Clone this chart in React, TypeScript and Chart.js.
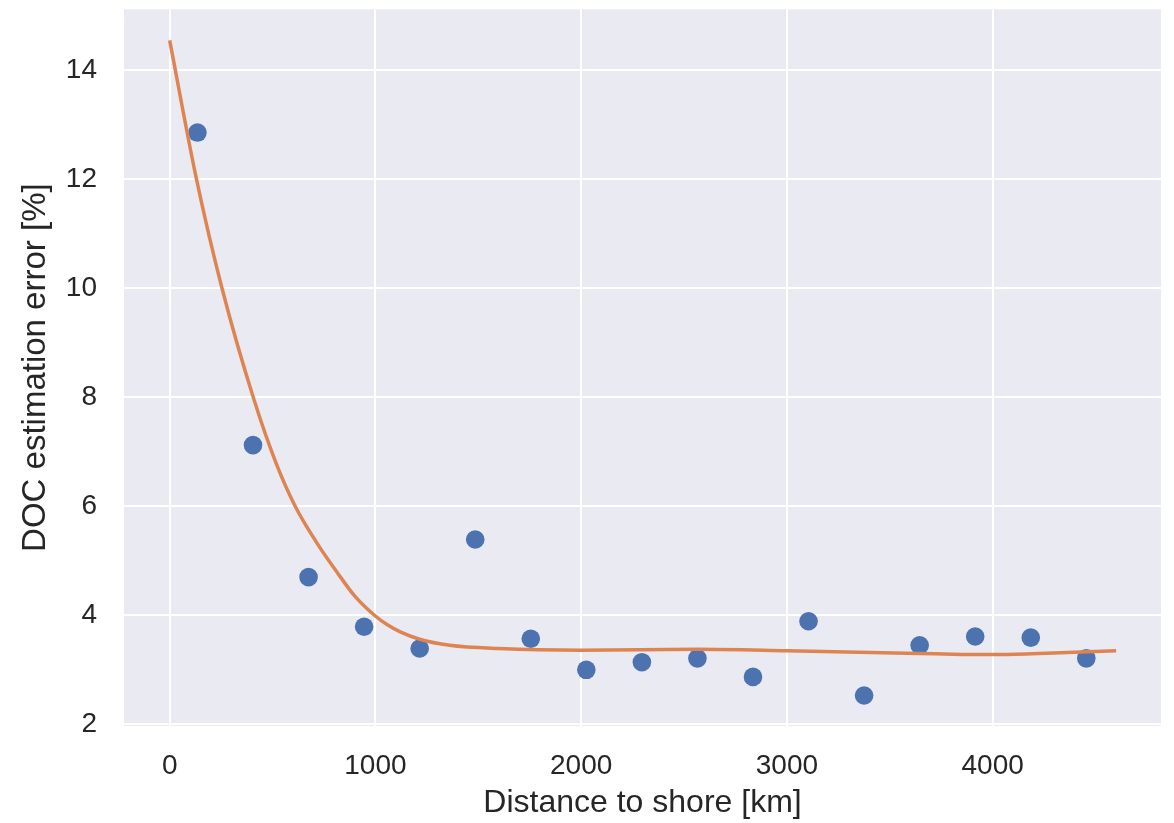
import React, { useEffect, useRef } from 'react';
import { Chart, registerables } from 'chart.js';

Chart.register(...registerables);

// Binned observations (distance to shore [km], DOC estimation error [%])
const POINT_X = [135, 405, 675, 945, 1215, 1485, 1755, 2025, 2295, 2565, 2835, 3105, 3375, 3645, 3915, 4185, 4455];
const POINT_Y = [12.85, 7.12, 4.7, 3.79, 3.39, 5.39, 3.57, 3.0, 3.14, 3.21, 2.87, 3.89, 2.53, 3.45, 3.61, 3.59, 3.21];

// Fitted curve
const FIT_X = [0, 130, 254, 410, 518, 610, 720, 815, 900, 995, 1060, 1118, 1215, 1361, 1600, 2000, 2568, 3000, 3646, 3850, 4000, 4191, 4600];
const FIT_Y = [14.54, 12.0, 10.0, 7.95, 6.78, 6.0, 5.3, 4.78, 4.35, 4.0, 3.82, 3.7, 3.56, 3.45, 3.39, 3.36, 3.375, 3.35, 3.3, 3.283, 3.28, 3.295, 3.35];

const X_TICKS = [0, 1000, 2000, 3000, 4000];
const Y_TICKS = [2, 4, 6, 8, 10, 12, 14];
const X_LABEL = 'Distance to shore [km]';
const Y_LABEL = 'DOC estimation error [%]';

const FONT = "'Liberation Sans', Arial, Helvetica, sans-serif";
const TEXT = '#262626';

const bgPlugin = {
  id: 'plotBg',
  beforeDraw(chart: any) {
    const { ctx, chartArea: a } = chart;
    ctx.save();
    ctx.fillStyle = '#EAEAF2';
    ctx.fillRect(a.left, a.top, a.right - a.left, a.bottom - a.top);
    ctx.restore();
  },
};

export default function App() {
  const ref = useRef<HTMLCanvasElement | null>(null);

  useEffect(() => {
    if (!ref.current) return;
    Chart.defaults.font.family = FONT;
    const chart = new Chart(ref.current, {
      type: 'scatter',
      data: {
        datasets: [
          {
            type: 'line',
            data: FIT_X.map((x, i) => ({ x, y: FIT_Y[i] })),
            borderColor: '#DD8452',
            borderWidth: 3.5,
            pointRadius: 0,
            fill: false,
            cubicInterpolationMode: 'monotone',
            showLine: true,
          } as any,
          {
            type: 'scatter',
            data: POINT_X.map((x, i) => ({ x, y: POINT_Y[i] })),
            backgroundColor: '#4C72B0',
            borderWidth: 0,
            pointRadius: 9.3,
            pointHoverRadius: 9.3,
          } as any,
        ],
      },
      options: {
        responsive: false,
        animation: false,
        events: [],
        layout: { padding: { top: 6, right: 13, left: 0, bottom: 0 } },
        plugins: {
          legend: { display: false },
          tooltip: { enabled: false },
        },
        scales: {
          x: {
            type: 'linear',
            min: -222,
            max: 4818,
            afterBuildTicks: (s: any) => {
              s.ticks = X_TICKS.map((v) => ({ value: v }));
            },
            afterFit: (s: any) => {
              s.height = 97;
              s.paddingLeft = 0;
              s.paddingRight = 0;
              s.paddingTop = 0;
              s.paddingBottom = 0;
            },
            border: { display: false },
            grid: { color: '#FFFFFF', lineWidth: 2, drawTicks: false },
            ticks: {
              color: TEXT,
              font: { size: 28, family: FONT },
              padding: 23,
              maxRotation: 0,
              autoSkip: false,
              callback: (v: any) => String(v),
            },
            title: {
              display: true,
              text: X_LABEL,
              color: TEXT,
              font: { size: 32, family: FONT },
              padding: { top: 0, bottom: 1 },
            },
          },
          y: {
            type: 'linear',
            min: 1.97,
            max: 15.11,
            afterBuildTicks: (s: any) => {
              s.ticks = Y_TICKS.map((v) => ({ value: v }));
            },
            afterFit: (s: any) => {
              s.width = 124;
              s.paddingTop = 0;
              s.paddingBottom = 0;
              s.paddingLeft = 0;
              s.paddingRight = 0;
            },
            border: { display: false },
            grid: { color: '#FFFFFF', lineWidth: 2, drawTicks: false },
            ticks: {
              color: TEXT,
              font: { size: 28, family: FONT },
              padding: 27,
              autoSkip: false,
              callback: (v: any) => String(v),
            },
            title: {
              display: true,
              text: Y_LABEL,
              color: TEXT,
              font: { size: 33, family: FONT },
              padding: { top: 16, bottom: 0 },
            },
          },
        },
      },
      plugins: [bgPlugin],
    });
    return () => chart.destroy();
  }, []);

  return (
    <div style={{ position: 'fixed', left: 0, top: 0, width: 1174, height: 823, background: '#FFFFFF' }}>
      <canvas ref={ref} width={1174} height={823} style={{ display: 'block' }} />
    </div>
  );
}
